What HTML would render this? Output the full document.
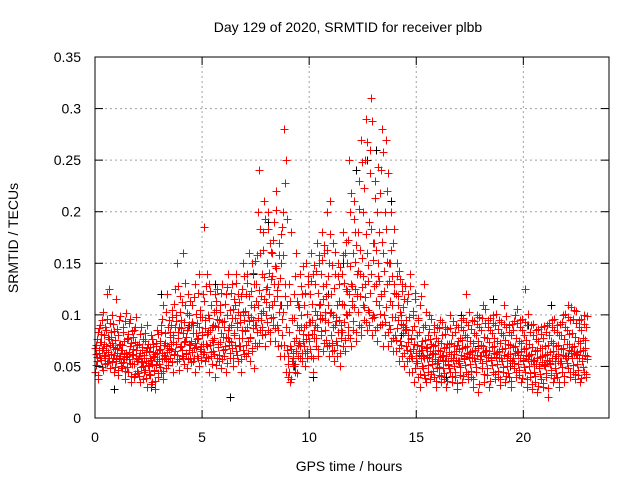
<!DOCTYPE html>
<html><head><meta charset="utf-8"><style>
body{margin:0;background:#fff}
svg{display:block;font-family:"Liberation Sans",sans-serif}
</style></head><body>
<svg id="chart" width="640" height="480">
<text x="348" y="32" font-size="14" text-anchor="middle">Day 129 of 2020, SRMTID for receiver plbb</text>
<text x="349" y="471" font-size="14" text-anchor="middle">GPS time / hours</text>
<text transform="translate(18,238) rotate(-90)" font-size="14" text-anchor="middle">SRMTID / TECUs</text>
<g id="grid"></g><g id="blackpts"></g><g id="redpts"></g><g id="axes"></g>
</svg>
<script>
const xTicks=[0,5,10,15,20];
const yTicks=[0,0.05,0.1,0.15,0.2,0.25,0.3,0.35];
const yTickLabels=["0","0.05","0.1","0.15","0.2","0.25","0.3","0.35"];
const binStart=0, binWidth=0.25;
// red series values (units of 0.001 TECU) per quarter-hour bin
const redBins=[
[45,62,71,55,83,38,66,90],[58,74,95,49,68,80,61,52],[70,85,120,64,55,77,92,48],[62,73,100,58,45,84,67,115],
[55,68,80,42,95,72,60,50],[48,66,88,57,75,38,102,63],[60,45,78,92,53,70,35,84],[52,67,40,85,74,58,98,46],
[44,60,72,35,88,55,66,50],[38,58,75,47,64,90,30,53],[50,65,42,80,56,35,72,60],[46,62,28,70,85,55,40,66],
[52,75,44,90,63,38,110,58],[60,82,48,120,70,55,95,66],[58,90,72,105,45,80,62,125],[65,100,55,150,78,88,47,118],
[70,95,60,160,82,52,110,75],[62,85,48,120,100,72,58,90],[75,110,55,90,68,130,45,82],[60,92,78,140,50,105,70,65],
[80,120,62,185,95,55,72,140],[70,100,45,130,85,60,110,52],[65,90,78,120,40,105,58,125],[72,95,55,110,82,48,130,66],
[60,88,70,120,45,100,78,140],[75,105,58,90,130,68,50,115],[80,110,65,140,92,55,120,70],[70,100,45,125,85,150,62,95],
[85,120,60,140,100,75,160,55],[78,110,65,150,95,130,48,90],[90,130,70,200,110,240,85,160],[95,140,80,180,115,210,70,125],
[100,150,85,200,120,170,75,135],[110,160,90,190,130,75,220,145],[90,130,70,170,110,60,150,185],[80,200,60,280,130,250,45,110],
[40,60,130,35,70,180,55,95],[50,75,120,45,160,65,90,110],[60,85,140,70,100,55,120,75],[70,110,50,150,90,65,130,80],
[75,120,60,160,95,45,140,85],[90,130,70,170,100,60,150,110],[100,140,80,180,115,65,160,95],[85,130,70,200,110,150,60,210],
[80,120,65,170,100,55,140,90],[75,110,60,150,95,130,50,85],[90,140,70,180,110,160,65,125],[100,150,80,250,120,200,70,130],
[110,160,85,210,125,180,75,140],[120,180,90,230,140,270,80,155],[110,200,95,250,130,290,85,160],[105,190,90,260,140,310,80,170],
[100,170,85,230,130,200,75,150],[110,180,90,240,120,280,70,160],[100,200,80,270,130,220,70,150],[90,150,75,200,110,170,65,130],
[80,120,65,150,95,110,55,135],[75,100,60,130,90,50,115,85],[70,95,55,120,80,45,140,65],[60,85,45,100,72,35,115,55],
[55,80,40,95,65,30,110,70],[50,75,60,130,42,90,68,35],[58,80,45,100,65,38,72,55],[52,70,40,90,62,30,78,48],
[55,75,42,95,65,35,80,60],[48,68,38,88,60,30,72,55],[52,72,45,100,62,35,80,58],[50,70,40,90,65,28,75,55],
[55,78,42,95,68,35,85,60],[58,80,45,120,70,38,90,62],[52,75,40,95,65,30,82,58],[55,80,45,100,68,25,88,60],
[60,85,48,110,70,35,92,65],[55,78,42,95,65,30,85,58],[58,82,45,100,70,38,90,62],[52,75,40,95,65,32,82,58],
[55,80,45,110,68,35,88,60],[50,72,40,90,62,30,80,55],[58,85,48,100,70,40,92,65],[52,75,42,95,65,35,85,58],
[55,80,45,125,68,30,90,60],[50,72,40,90,62,28,80,55],[45,65,35,85,58,25,75,50],[48,68,38,88,60,30,78,52],
[50,70,40,90,62,20,80,55],[52,75,42,95,65,35,85,58],[48,70,40,90,62,30,80,55],[55,80,45,100,68,35,88,60],
[60,85,48,110,72,40,95,65],[58,82,45,105,70,38,92,62],[52,75,42,95,65,35,85,58],[55,78,45,100,68,40,88,60]
];
// second red sample set per bin (interleaved in time)
const redBins2=[
[68,51,77,59,42,87,63,74],[81,56,66,103,47,72,60,88],[66,96,53,79,125,58,71,83],[79,54,69,91,61,49,76,57],
[63,86,47,71,58,99,66,53],[71,54,83,62,46,94,59,77],[49,81,64,57,96,41,73,62],[61,79,52,43,88,66,55,71],
[57,41,81,63,49,69,54,77],[61,45,82,55,39,68,51,72],[43,69,58,33,77,52,64,47],[59,36,73,51,63,44,81,57],
[67,49,83,57,96,46,71,61],[73,57,103,64,51,88,68,79],[83,67,54,98,74,111,61,88],[72,94,61,128,83,57,103,69],
[87,66,112,58,93,74,131,63],[79,102,57,88,66,113,71,54],[93,64,82,117,58,73,101,69],[77,58,121,88,67,98,56,83],
[98,72,113,64,87,128,59,81],[83,58,97,71,123,64,88,76],[74,103,62,89,113,51,96,69],[88,61,103,74,121,57,93,79],
[94,67,111,79,53,127,85,71],[88,63,121,74,97,58,106,82],[97,71,131,61,88,103,78,112],[93,57,118,78,103,66,138,84],
[104,71,131,88,63,118,94,79],[98,123,68,141,87,108,73,152],[113,83,158,97,124,73,183,102],[118,88,163,104,137,81,193,112],
[127,93,183,108,141,83,161,97],[138,98,173,113,147,87,202,124],[118,85,158,103,136,71,178,96],[103,158,71,228,118,88,193,66],
[52,83,45,113,67,38,97,58],[63,97,52,138,78,44,113,71],[73,108,58,128,88,63,147,81],[88,63,121,77,101,58,138,93],
[93,67,133,81,111,58,148,78],[104,78,143,88,121,67,158,96],[111,84,153,97,128,73,168,103],[118,76,163,93,138,71,178,102],
[103,73,148,88,126,66,161,94],[98,71,138,83,113,63,146,78],[111,83,158,93,131,76,171,101],[123,88,173,103,147,78,218,113],
[128,94,193,108,151,83,168,118],[143,103,203,118,163,88,248,127],[138,108,223,117,178,93,268,148],[133,103,238,121,183,97,288,153],
[128,98,213,113,163,88,243,138],[133,101,218,118,171,91,258,143],[123,93,183,108,151,83,238,133],[113,86,163,98,138,78,183,121],
[98,76,138,87,118,68,143,103],[91,71,123,82,108,63,128,88],[86,66,113,74,98,58,128,77],[78,58,104,67,89,48,121,63],
[71,53,97,61,83,43,118,58],[66,48,88,58,76,39,103,61],[69,51,86,59,77,43,96,62],[63,46,83,57,71,36,88,53],
[66,49,87,59,73,41,93,56],[61,44,81,55,69,36,86,51],[64,48,87,58,73,41,94,56],[62,45,83,56,71,34,88,53],
[67,49,88,61,76,41,97,57],[69,51,93,63,79,43,103,59],[64,46,86,58,73,38,94,55],[66,49,91,61,75,33,98,57],
[71,53,97,64,79,43,106,61],[66,48,88,59,74,36,97,56],[69,51,92,63,78,43,101,59],[64,46,86,58,73,38,93,55],
[67,49,91,61,76,41,99,58],[62,44,83,56,71,36,91,53],[69,53,94,63,78,45,106,61],[64,47,88,58,73,39,96,56],
[67,49,93,61,76,38,101,57],[61,44,83,55,69,33,91,52],[56,41,77,52,66,31,86,48],[59,43,81,54,68,34,89,51],
[61,44,83,56,71,29,92,53],[64,47,88,58,73,39,96,55],[60,44,83,55,71,35,91,53],[67,49,93,61,77,41,101,58],
[72,53,98,66,81,45,108,63],[69,51,96,63,79,43,104,61],[64,47,88,58,73,39,96,55],[66,49,91,61,76,43,99,57]
];
const blackTimes=[0.9,2.6,3.1,4.4,5.6,6.3,7.4,8.1,8.7,9.3,10.2,10.9,11.6,12.2,12.7,13.1,13.4,13.8,14.3,15.2,16.4,17.1,17.9,18.6,19.4,20.2,21.3,22.1];
const blackValues=[0.028,0.03,0.12,0.09,0.13,0.02,0.14,0.19,0.11,0.05,0.04,0.12,0.15,0.24,0.25,0.26,0.28,0.21,0.08,0.06,0.04,0.1,0.07,0.115,0.05,0.09,0.11,0.06];
const X0=95,X1=609,Y0=418,Y1=57,xMax=24,yMax=0.35;
const xs=t=>X0+(X1-X0)*t/xMax, ys=v=>Y0-(Y0-Y1)*v/yMax;
const NS="http://www.w3.org/2000/svg";
function mk(tag,attrs,parent){const e=document.createElementNS(NS,tag);for(const k in attrs)e.setAttribute(k,attrs[k]);parent.appendChild(e);return e;}
const grid=document.getElementById('grid'),axes=document.getElementById('axes');
xTicks.forEach((t,i)=>{const x=xs(t);
 if(t>0){const g=mk('line',{x1:x,x2:x,y1:Y0,y2:Y1,stroke:'#a0a0a0','stroke-dasharray':'2,3'},grid);
 
 }
 mk('line',{x1:x,x2:x,y1:Y0,y2:Y0-8,stroke:'#000'},axes);
 mk('line',{x1:x,x2:x,y1:Y1,y2:Y1+8,stroke:'#000'},axes);
 const l=mk('text',{x:x,y:Y0+24,'font-size':14,'text-anchor':'middle'},axes);l.textContent=String(t);
 
 
});
yTicks.forEach((v,i)=>{const y=ys(v);
 if(v>0&&v<yMax){const g=mk('line',{x1:X0,x2:X1,y1:y,y2:y,stroke:'#a0a0a0','stroke-dasharray':'2,3'},grid);
 
 }
 mk('line',{x1:X0,x2:X0+8,y1:y,y2:y,stroke:'#000'},axes);
 mk('line',{x1:X1,x2:X1-8,y1:y,y2:y,stroke:'#000'},axes);
 const l=mk('text',{x:X0-14,y:y+5,'font-size':14,'text-anchor':'end'},axes);l.textContent=yTickLabels[i];
 
 
});
const fr=mk('rect',{x:X0,y:Y1,width:X1-X0,height:Y0-Y1,fill:'none',stroke:'#000'},axes);


function plus(x,y,col,parent){x=Math.round(x)+0.5;y=Math.round(y)+0.5;return mk('path',{d:`M${x-4},${y}h8M${x},${y-4}v8`,stroke:col,'stroke-width':1,fill:'none'},parent);}
const bp=document.getElementById('blackpts');
blackTimes.forEach((t,i)=>{const p=plus(xs(t),ys(blackValues[i]),'#000',bp);
 
 });
const rp=document.getElementById('redpts');
[redBins,redBins2].forEach((bins,k)=>{
 bins.forEach((vals,i)=>{vals.forEach((v,j)=>{
  const t=binStart+i*binWidth+(j+k*0.5)*binWidth/vals.length;
  const p=plus(xs(t),ys(v/1000),'#ff0000',rp);
  
  });});
});
</script>
</body></html>
